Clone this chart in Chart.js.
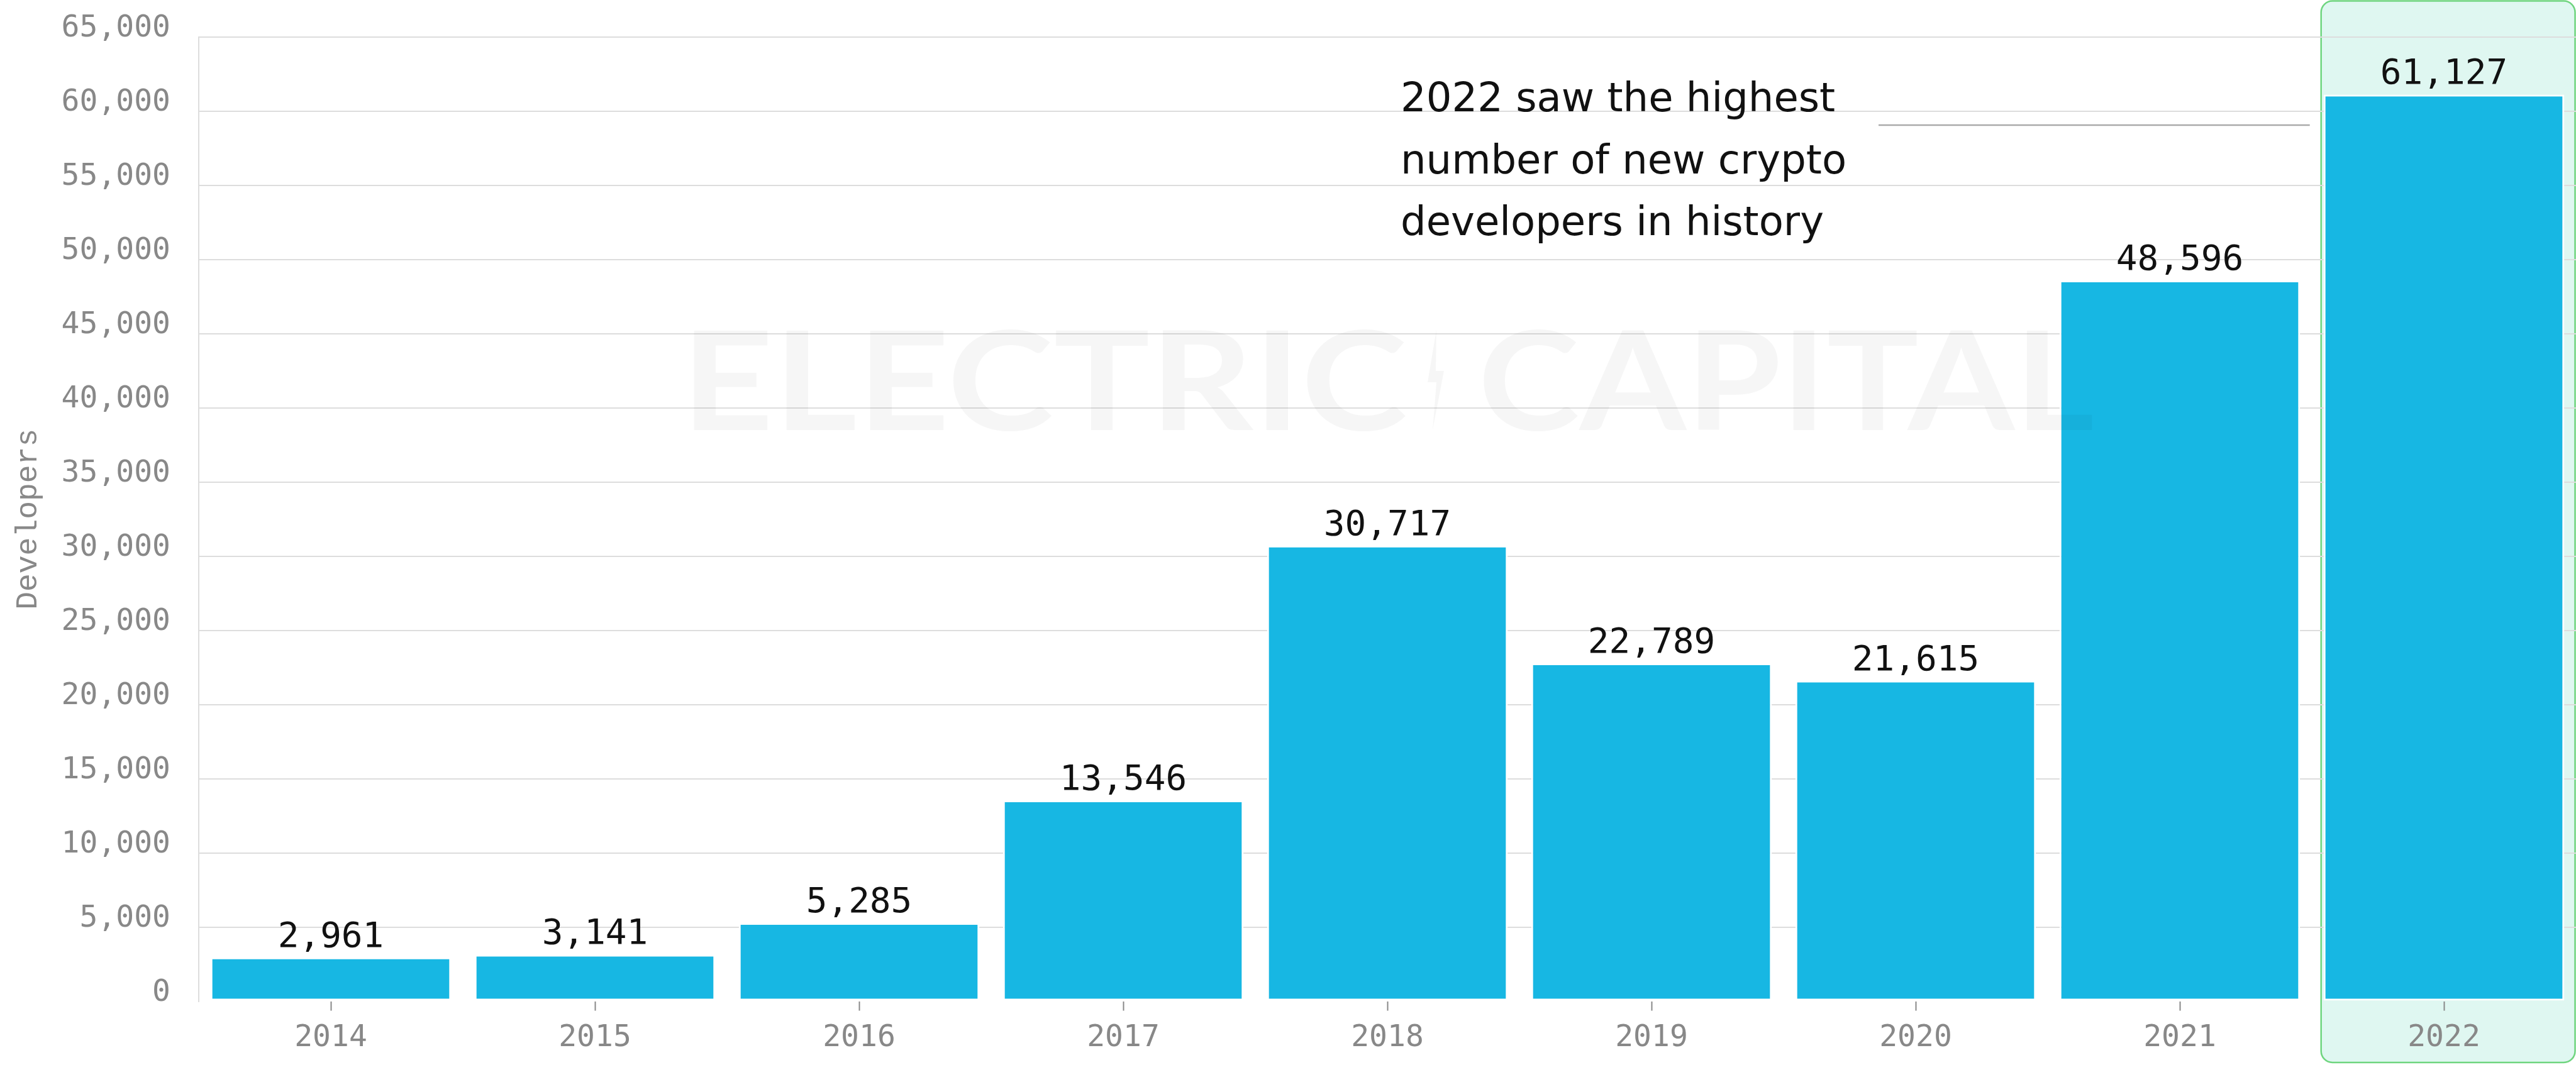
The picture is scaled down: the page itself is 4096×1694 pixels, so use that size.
<!DOCTYPE html>
<html>
<head>
<meta charset="utf-8">
<title>New crypto developers per year</title>
<script src="https://cdn.jsdelivr.net/npm/chart.js@4.4.1/dist/chart.umd.min.js"></script>
<style>
    html, body { margin: 0; padding: 0; background: #ffffff; }
    #wrap { width: 4096px; height: 1694px; position: relative; }
</style>
</head>
<body>
<div id="wrap"><canvas id="devChart" width="4096" height="1694"></canvas></div>
<script>
// ===== Data =====
const years = ['2014', '2015', '2016', '2017', '2018', '2019', '2020', '2021', '2022'];
const newDevelopers = [2961, 3141, 5285, 13546, 30717, 22789, 21615, 48596, 61127];
const yMax = 65000;
const yStep = 5000;
const highlightYear = '2022';
const axisTitle = 'Developers';
const noteLines = ['2022 saw the highest', 'number of new crypto', 'developers in history'];
const watermarkWords = ['ELECTRIC', 'CAPITAL'];

const MONO = '"DejaVu Sans Mono", monospace';
const BAR_BLUE = '#17b7e3';
const GRID = '#dddddd';
const MUTED = '#888888';

function fmt(n) {
    return n.toLocaleString('en-US');
}

// left edge of the 2022 highlight box
function highlightLeft(chart) {
    const x = chart.scales.x;
    const cat = x.width / years.length;
    return x.getPixelForValue(years.indexOf(highlightYear)) - cat * 0.465;
}

// 2022 highlight box, behind the grid
const highlightPlugin = {
    id: 'highlight',
    beforeDraw(chart) {
        const left = highlightLeft(chart);
        const right = chart.width - 1.5;
        const top = 1.5;
        const bottom = chart.height - 4;
        const ctx = chart.ctx;
        ctx.save();
        ctx.beginPath();
        ctx.roundRect(left, top, right - left, bottom - top, 18);
        ctx.fillStyle = '#dff7f1';
        ctx.fill();
        ctx.lineWidth = 2.5;
        ctx.strokeStyle = '#6fd57f';
        ctx.stroke();
        ctx.restore();
    }
};

// value labels above bars
const valueLabelPlugin = {
    id: 'valueLabels',
    afterDatasetsDraw(chart) {
        const ctx = chart.ctx;
        const meta = chart.getDatasetMeta(0);
        ctx.save();
        ctx.font = '56px ' + MONO;
        ctx.fillStyle = '#111111';
        ctx.textAlign = 'center';
        ctx.textBaseline = 'alphabetic';
        meta.data.forEach((bar, i) => {
            ctx.fillText(fmt(newDevelopers[i]), bar.x, bar.y - 17);
        });
        ctx.restore();
    }
};

// annotation text + watermark
const notePlugin = {
    id: 'note',
    afterDraw(chart) {
        const ctx = chart.ctx;
        ctx.save();

        // watermark
        ctx.globalAlpha = 0.035;
        ctx.fillStyle = '#000000';
        ctx.font = '700 218px Lato';
        ctx.textBaseline = 'alphabetic';
        const base = 684;
        const drawFit = (txt, x0, x1) => {
            const w = ctx.measureText(txt).width;
            ctx.save();
            ctx.translate(x0, base);
            ctx.scale((x1 - x0) / w, 1);
            ctx.textAlign = 'left';
            ctx.fillText(txt, 0, 0);
            ctx.restore();
        };
        drawFit(watermarkWords[0], 1083, 2238);
        drawFit(watermarkWords[1], 2350, 3330);
        // bolt
        ctx.beginPath();
        ctx.moveTo(2284, 524);
        ctx.lineTo(2270, 608);
        ctx.lineTo(2284, 608);
        ctx.lineTo(2278, 684);
        ctx.lineTo(2296, 590);
        ctx.lineTo(2283, 590);
        ctx.closePath();
        ctx.fill();
        ctx.globalAlpha = 1;

        // annotation
        ctx.font = '64px "DejaVu Sans"';
        ctx.fillStyle = '#111111';
        ctx.textAlign = 'left';
        const tx = 2227;
        [177, 276, 374].forEach((y, i) => ctx.fillText(noteLines[i], tx, y));

        // connector line
        ctx.beginPath();
        ctx.moveTo(2987, 199);
        ctx.lineTo(highlightLeft(chart) - 18, 199);
        ctx.lineWidth = 2.5;
        ctx.strokeStyle = '#aaaaaa';
        ctx.stroke();
        ctx.restore();
    }
};

function createChart() {
    const ctx = document.getElementById('devChart').getContext('2d');
    new Chart(ctx, {
        type: 'bar',
        data: {
            labels: years,
            datasets: [{
                label: axisTitle,
                data: newDevelopers,
                backgroundColor: BAR_BLUE,
                borderColor: '#ffffff',
                borderWidth: 3,
                borderSkipped: false,
                barPercentage: 0.911,
                categoryPercentage: 1
            }]
        },
        options: {
            responsive: false,
            animation: false,
            devicePixelRatio: 1,
            layout: { padding: { top: 59, left: 0, right: 0, bottom: 0 } },
            plugins: {
                legend: { display: false },
                tooltip: { enabled: false },
                title: { display: false }
            },
            scales: {
                x: {
                    grid: {
                        offset: false,
                        drawOnChartArea: false,
                        drawTicks: true,
                        tickLength: 15,
                        tickWidth: 2,
                        tickColor: MUTED
                    },
                    border: { display: false },
                    ticks: {
                        color: MUTED,
                        font: { family: MONO, size: 48 },
                        padding: 15,
                        maxRotation: 0
                    },
                    afterFit(scale) { scale.height = 101.4; }
                },
                y: {
                    min: 0,
                    max: yMax,
                    ticks: {
                        stepSize: yStep,
                        color: MUTED,
                        font: { family: MONO, size: 48 },
                        padding: 0,
                        labelOffset: -13,
                        callback: v => fmt(v)
                    },
                    grid: {
                        color: c => (c.tick && c.tick.value === 0 ? 'rgba(0,0,0,0)' : GRID),
                        lineWidth: 2,
                        drawTicks: true,
                        tickLength: 45,
                        tickColor: 'rgba(0,0,0,0)'
                    },
                    border: { display: true, color: GRID, width: 2 },
                    title: {
                        display: true,
                        text: axisTitle,
                        color: MUTED,
                        font: { family: '"Liberation Mono", monospace', size: 48 },
                        padding: { top: 16, bottom: 0 }
                    },
                    afterFit(scale) { scale.width = 316; }
                }
            }
        },
        plugins: [highlightPlugin, valueLabelPlugin, notePlugin]
    });
}

// fonts first, then draw
Promise.all([
    document.fonts.load('48px "DejaVu Sans Mono"'),
    document.fonts.load('48px "Liberation Mono"'),
    document.fonts.load('64px "DejaVu Sans"'),
    document.fonts.load('700 218px Lato')
]).catch(() => {}).then(createChart);
</script>
</body>
</html>
